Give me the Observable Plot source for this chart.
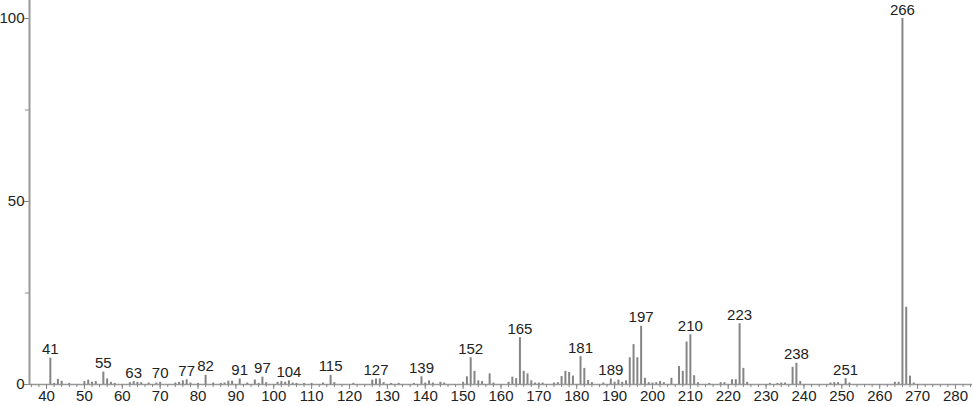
<!DOCTYPE html>
<html>
<head>
<meta charset="utf-8">
<script src="https://cdn.jsdelivr.net/npm/d3@7"></script>
<script src="https://cdn.jsdelivr.net/npm/@observablehq/plot@0.6"></script>
<style>
  html, body { margin: 0; padding: 0; background: #fff; }
</style>
</head>
<body>
<div id="chart"></div>
<script>
const mz = [41, 42, 43, 44, 46, 50, 51, 52, 53, 55, 56, 57, 58, 62, 63, 64, 65, 67, 69, 70,
  74, 75, 76, 77, 78, 80, 82, 84, 86, 87, 88, 89, 91, 93, 95, 96, 97, 98,
  101, 102, 103, 104, 105, 106, 108, 110, 113, 115, 116, 121, 126, 127, 128, 129, 131, 133,
  137, 139, 140, 141, 142, 144, 145, 150, 151, 152, 153, 154, 155, 157, 158,
  162, 163, 164, 165, 166, 167, 168, 169, 170, 171, 174, 175, 176, 177, 178, 179,
  181, 182, 183, 184, 187, 189, 190, 191, 192, 193, 194, 195, 196, 197, 198, 199,
  200, 201, 202, 203, 205, 207, 208, 209, 210, 211, 212, 215, 218, 219, 221, 222,
  223, 224, 225, 231, 233, 234, 235, 237, 238, 239, 247, 248, 249, 251, 252,
  264, 265, 266, 267, 268, 269];
const intensity = [7.2, 0.3, 1.4, 0.9, 0.3, 0.8, 1.2, 0.6, 0.8, 3.4, 1.5, 0.6, 0.3, 0.5, 0.8, 0.6, 0.5, 0.4, 0.4, 0.6,
  0.4, 0.6, 1.0, 1.3, 0.4, 0.3, 2.5, 0.4, 0.3, 0.4, 0.9, 0.9, 1.5, 0.4, 1.2, 0.3, 2.0, 0.5,
  0.6, 0.8, 0.6, 1.0, 0.4, 0.3, 0.3, 0.3, 0.4, 2.5, 0.5, 0.3, 1.2, 1.5, 1.5, 0.5, 0.3, 0.3,
  0.3, 2.1, 0.4, 1.0, 0.4, 0.6, 0.4, 0.6, 2.1, 7.3, 3.6, 1.0, 0.8, 2.9, 0.4,
  0.6, 2.0, 1.6, 12.8, 3.6, 2.9, 1.0, 0.4, 0.4, 0.4, 0.4, 0.5, 2.2, 3.6, 3.3, 2.3,
  7.6, 4.4, 1.1, 0.5, 0.4, 1.5, 0.6, 1.2, 0.6, 1.0, 7.3, 10.9, 7.3, 15.9, 1.7, 0.5,
  0.4, 0.5, 0.8, 0.5, 1.7, 4.9, 3.6, 11.6, 13.6, 2.4, 0.5, 0.3, 0.5, 0.5, 1.3, 1.3,
  16.6, 4.4, 0.6, 0.3, 0.3, 0.4, 0.4, 4.7, 5.8, 0.8, 0.4, 0.5, 0.5, 1.6, 0.4,
  0.6, 0.6, 100, 21.1, 2.3, 0.4];
const labeledPeaks = [41, 55, 63, 70, 77, 82, 91, 97, 104, 115, 127, 139, 152, 165, 181, 189, 197, 210, 223, 238, 251, 266];
const xTickValues = d3.range(40, 281, 10);
const xMinorTicks = d3.range(36, 285, 2);
const yTickValues = [0, 50, 100];
const yMinorTicks = [25, 75];

const peaks = mz.map((m, i) => ({mz: m, i: intensity[i]}));
const byMz = new Map(peaks.map(d => [d.mz, d.i]));
const labels = labeledPeaks.map(m => ({mz: m, i: byMz.get(m), text: String(m)}));

const chart = Plot.plot({
  width: 974,
  height: 406,
  marginLeft: 29,
  marginRight: 2,
  marginTop: 18,
  marginBottom: 22,
  x: {domain: [35.5, 284.5]},
  y: {domain: [0, 100]},
  style: {fontFamily: "'Liberation Sans', Arial, sans-serif", fontSize: "15px", color: "#222", background: "#fff"},
  marks: [
    Plot.ruleY([0], {stroke: "#999", strokeWidth: 1.5}),
    Plot.ruleX([35.5], {y1: 0, y2: 105, stroke: "#999", strokeWidth: 2}),
    Plot.axisX({ticks: xMinorTicks, tickSize: 3, text: null, stroke: "#888", label: null}),
    Plot.axisX({ticks: xTickValues, tickSize: 5, tickPadding: 1, stroke: "#888", label: null, fill: "#222", fontSize: 15}),
    Plot.axisY({ticks: yMinorTicks, tickSize: 4, text: null, stroke: "#888", label: null}),
    Plot.axisY({ticks: yTickValues, tickSize: 5, tickPadding: 0, stroke: "#888", label: null, fill: "#222", fontSize: 15}),
    Plot.ruleX(peaks, {x: "mz", y1: 0, y2: "i", stroke: "#858585", strokeWidth: 2}),
    Plot.text(labels, {x: "mz", y: "i", text: "text", lineAnchor: "bottom", dy: -4, fill: "#222", fontSize: 15})
  ]
});
document.getElementById("chart").appendChild(chart);
</script>
</body>
</html>
